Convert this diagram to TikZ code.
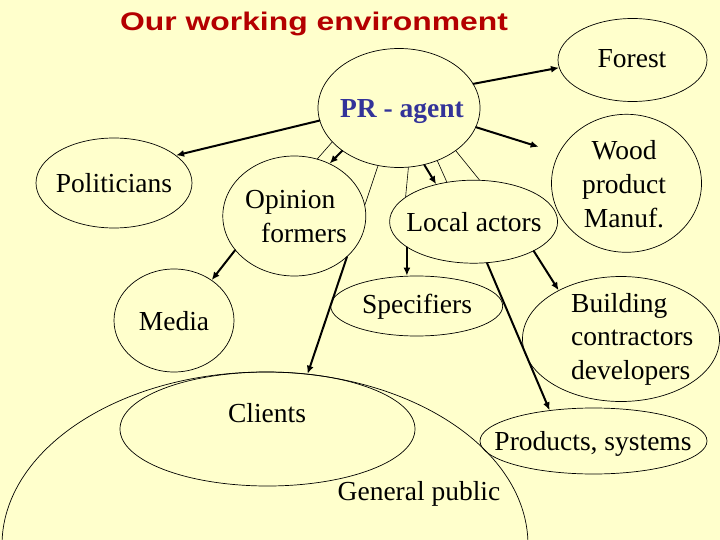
\documentclass[tikz,border=0pt]{standalone}
\usepackage{fontspec}
\setmainfont{Liberation Serif}
\newfontfamily\headfont{Liberation Sans}
\usepackage{graphicx}
\usepackage{tikz}
\usetikzlibrary{arrows.meta,shapes.geometric}
\usepackage{xcolor}
\definecolor{slidebg}{HTML}{FFFFCC}
\definecolor{headred}{HTML}{B40000}
\definecolor{agentblue}{HTML}{333399}
\newcommand\lblsize{\fontsize{27.5}{33.5}\selectfont}

\begin{document}
\begin{tikzpicture}[x=1pt,y=-1pt,>={Latex[length=8pt,width=7pt]},line cap=round,
  blob/.style={draw,ellipse,line width=0.7pt,inner sep=0pt},
  lbl/.style={font=\lblsize,anchor=base,align=center,inner sep=0pt},
  link/.style={->,line width=2pt},
  hair/.style={line width=0.6pt}]
\fill[slidebg] (0,0) rectangle (720,540);
\useasboundingbox (0,0) rectangle (720,540);
% the ellipses
\node[blob,minimum width=526pt,minimum height=346pt] (public) at (265,545) {};
\node[blob,minimum width=295pt,minimum height=114pt] (clients) at (267.5,429) {};
\node[blob,minimum width=162pt,minimum height=119pt] (pr) at (399,108) {};
\node[blob,minimum width=149pt,minimum height=83pt] (forest) at (632.5,60) {};
\node[blob,minimum width=156pt,minimum height=90pt] (politicians) at (114,183) {};
\node[blob,minimum width=143pt,minimum height=120pt] (opinion) at (294.3,216) {};
\node[blob,minimum width=168pt,minimum height=83pt] (local) at (473.6,221.7) {};
\node[blob,minimum width=150pt,minimum height=138pt] (wood) at (626.5,183.3) {};
\node[blob,minimum width=120pt,minimum height=103pt] (media) at (174,320.5) {};
\node[blob,minimum width=172pt,minimum height=60pt] (specifiers) at (416.7,306) {};
\node[blob,minimum width=197pt,minimum height=125pt] (building) at (621,339) {};
\node[blob,minimum width=227pt,minimum height=66pt] (products) at (593.5,441) {};
% texts (multi-line ones sit on their last baseline)
\node[font=\headfont\bfseries\fontsize{25.5}{30}\selectfont,text=headred,anchor=base,inner sep=0pt] (title) at (314,31) {\scalebox{1.25}[1]{Our working environment}};
\node[lbl] (forest-t) at (632,68) {Forest};
\node[lbl,font=\lblsize\bfseries,text=agentblue] (pr-t) at (402,118) {PR - agent};
\node[lbl] (politicians-t) at (114,193) {Politicians};
\node[lbl,align=left,anchor=base west] (opinion-t) at (245,242) {Opinion\\\hspace*{16pt}formers};
\node[lbl] (local-t) at (474,232) {Local actors};
\node[lbl] (wood-t) at (624,227) {Wood\\product\\Manuf.};
\node[lbl] (media-t) at (174,330) {Media};
\node[lbl] (specifiers-t) at (417,313) {Specifiers};
\node[lbl,align=left,anchor=base west] (building-t) at (571,379) {Building\\contractors\\developers};
\node[lbl] (clients-t) at (267,422) {Clients};
\node[lbl] (products-t) at (593,450) {Products, systems};
\node[lbl] (public-t) at (419,500) {General public};
% arrows
\draw[link] (pr.18) -- (forest.186);
\draw[link,shorten >=21pt] (pr.-14) -- (wood.156);
\draw[link] (pr.189) -- (politicians.24);
\draw[link] (pr.217) -- (opinion.56);
\draw[link] (pr.-66) -- (local.135);
\draw[link] (local.201) -- (local.201 |- specifiers.north);
\draw[link] (local.-26) -- (building.142);
\draw[link] (opinion.210) -- (media.47);
\draw[link] (opinion.-38) -- (clients.54);
\draw[link] (local.-72) -- (products.145);
% thin strokes
\draw[hair] (opinion.68) -- (pr.207);
\draw[hair] (pr.250) -- (opinion.9);
\draw[hair] (pr.-81) -- (local.160);
\draw[hair] (pr.-54) -- (local.124);
\draw[hair] (pr.-37) -- (local.82);
\end{tikzpicture}
\end{document}
